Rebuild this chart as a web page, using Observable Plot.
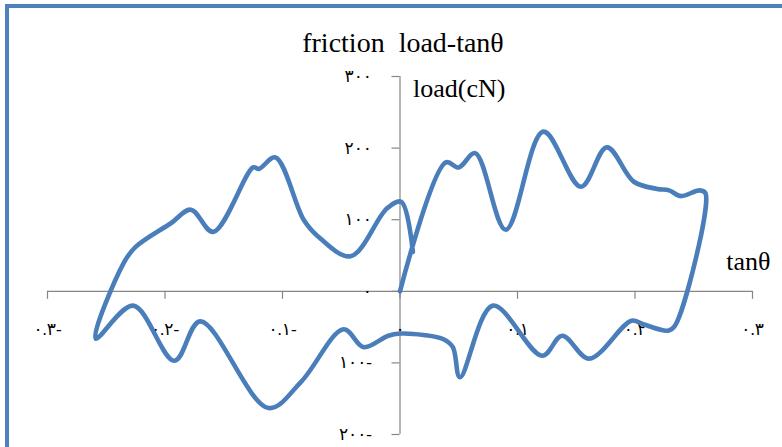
<!DOCTYPE html>
<html><head><meta charset="utf-8">
<script src="https://cdn.jsdelivr.net/npm/d3@7"></script>
<script src="https://cdn.jsdelivr.net/npm/@observablehq/plot@0.6"></script>
<style>
html,body{margin:0;padding:0;background:#fff;overflow:hidden;}
#wrap{position:relative;width:782px;height:447px;overflow:hidden;background:#fff;}
#chart{position:absolute;left:0;top:0;}
#frame{position:absolute;left:5px;top:4px;width:900px;height:700px;border:4px solid #4f81bd;box-sizing:border-box;pointer-events:none;}
</style></head><body>
<div id="wrap"><div id="chart"></div><div id="frame"></div></div>
<script>
// path of the friction load loop, in drawing order
const tanTheta = [0, 0.039, 0.050, 0.064, 0.090, 0.122, 0.154, 0.176, 0.199, 0.219, 0.229, 0.239, 0.255, 0.260,
  0.234, 0.228, 0.207, 0.197, 0.161, 0.138, 0.121, 0.079, 0.051, 0.045, 0.037, 0.020, 0.000, -0.010,
  -0.031, -0.048, -0.084, -0.112, -0.170, -0.192, -0.227, -0.259,
  -0.235, -0.225, -0.195, -0.178, -0.159, -0.125, -0.120, -0.106, -0.082, -0.070, -0.042, -0.011, 0.001, 0.011];
const load = [0, 180, 173, 193, 86, 223, 146, 201, 153, 143, 141, 133, 141, 137,
  -48, -55, -46, -41, -94, -62, -90, -20, -120, -78, -67, -61, -59, -62,
  -78, -53, -126, -163, -42, -97, -20, -66,
  40, 62, 95, 114, 83, 173, 171, 187, 100, 77, 49, 116, 125, 55];

const xTicks = [-0.3, -0.2, -0.1, 0, 0.1, 0.2, 0.3];
const xTickLabels = ["٠.٣-", "٠.٢-", "٠.١-", "٠", "٠.١", "٠.٢", "٠.٣"];
const yTicks = [-200, -100, 0, 100, 200, 300];
const yTickLabels = ["٢٠٠-", "١٠٠-", "٠", "١٠٠", "٢٠٠", "٣٠٠"];
const titleText = "friction  load-tanθ";
const yLabelText = "load(cN)";
const xLabelText = "tanθ";

const points = tanTheta.map((x, i) => ({x, y: load[i]}));
const serif = "'Liberation Serif', 'Times New Roman', serif";
const digits = "'Liberation Serif', 'DejaVu Sans', serif";
const axisColor = "#868686";

const chart = Plot.plot({
  width: 782, height: 447,
  marginLeft: 47, marginRight: 30, marginTop: 76, marginBottom: 13,
  x: {domain: [-0.3, 0.3], axis: null},
  y: {domain: [-200, 300], axis: null},
  style: {background: "transparent", overflow: "visible"},
  marks: [
    Plot.ruleY([0], {stroke: axisColor, strokeWidth: 1.2}),
    Plot.ruleX([0], {stroke: axisColor, strokeWidth: 1.2}),
    Plot.ruleX(xTicks, {x: d => d, y1: 0, y2: 0, insetBottom: -8, stroke: axisColor, strokeWidth: 1.2}),
    Plot.ruleY(yTicks, {y: d => d, x1: 0, x2: 0, insetLeft: -8, stroke: axisColor, strokeWidth: 1.2}),
    Plot.text(xTicks, {x: d => d, y: 0, text: (d, i) => xTickLabels[i], dy: 38, fontSize: 17, fontFamily: digits, fill: "#000"}),
    Plot.text(yTicks, {x: 0, y: d => d, text: (d, i) => yTickLabels[i], dx: -28, textAnchor: "end", fontSize: 17, fontFamily: digits, fill: "#000"}),
    Plot.line(points, {x: "x", y: "y", stroke: "#4a7ebb", strokeWidth: 4.6, curve: "catmull-rom", strokeLinejoin: "round", strokeLinecap: "round"}),
    Plot.text([titleText], {x: 0, y: 300, text: d => d, dx: 3, dy: -33, fontSize: 28, fontFamily: serif, fill: "#000"}),
    Plot.text([yLabelText], {x: 0, y: 300, text: d => d, dx: 13, dy: 12, textAnchor: "start", fontSize: 26, fontFamily: serif, fill: "#000"}),
    Plot.text([xLabelText], {x: 0.3, y: 0, text: d => d, dx: 18, dy: -30, textAnchor: "end", fontSize: 26, fontFamily: serif, fill: "#000"})
  ]
});
document.getElementById("chart").appendChild(chart);
</script>
</body></html>
